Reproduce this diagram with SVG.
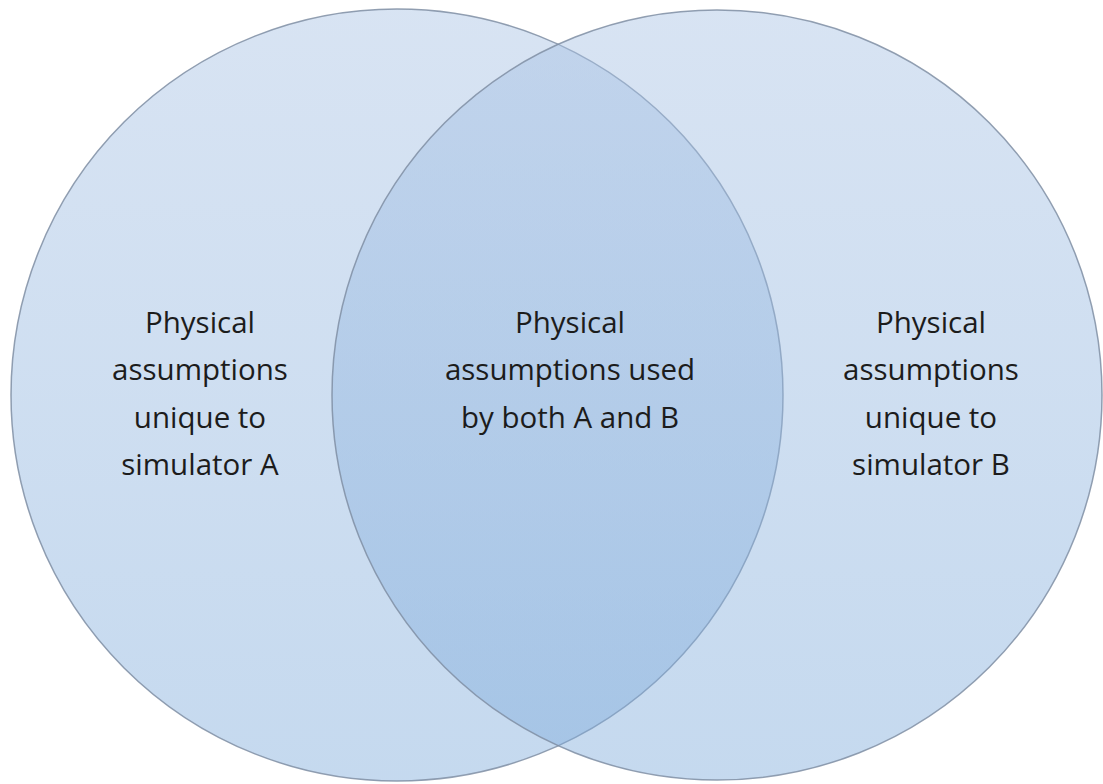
<svg xmlns="http://www.w3.org/2000/svg" width="1103" height="784" viewBox="0 0 1103 784">
  <defs>
    <linearGradient id="fillGrad" x1="0" y1="0" x2="0" y2="1">
      <stop offset="0" stop-color="#a8c2e4"/>
      <stop offset="1" stop-color="#7eabdb"/>
    </linearGradient>
  </defs>
  <style>
    .set { fill: url(#fillGrad); fill-opacity: 0.45; stroke: #7f8ea3; stroke-width: 1.5; stroke-opacity: 0.85; }
    .label { font-family: "Open Sans", "Liberation Sans", sans-serif; font-size: 29.5px; fill: #1c1c1c; text-anchor: middle; }
  </style>
  <rect width="1103" height="784" fill="#ffffff"/>
  <g id="set-a">
    <circle class="set" cx="397" cy="395" r="386"/>
  </g>
  <g id="set-b">
    <circle class="set" cx="717" cy="395" r="385"/>
  </g>
  <g id="label-a">
    <text class="label" x="200" y="333">Physical</text>
    <text class="label" x="200" y="380">assumptions</text>
    <text class="label" x="200" y="428">unique to</text>
    <text class="label" x="200" y="475">simulator A</text>
  </g>
  <g id="label-both">
    <text class="label" x="570" y="333">Physical</text>
    <text class="label" x="570" y="380">assumptions used</text>
    <text class="label" x="570" y="428">by both A and B</text>
  </g>
  <g id="label-b">
    <text class="label" x="931" y="333">Physical</text>
    <text class="label" x="931" y="380">assumptions</text>
    <text class="label" x="931" y="428">unique to</text>
    <text class="label" x="931" y="475">simulator B</text>
  </g>
  <g id="connectors"/>
</svg>
